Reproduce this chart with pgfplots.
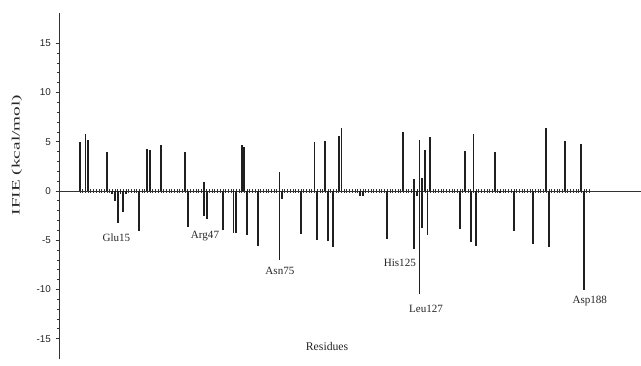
\documentclass[border=0pt]{standalone}
\usepackage{fontspec}
\setmainfont{Liberation Serif}
\setsansfont{Liberation Sans}
\usepackage{graphicx}
\usepackage{pgfplots}
\pgfplotsset{compat=1.18}
\begin{document}
\begin{tikzpicture}
\begin{axis}[
  scale only axis,
  width=436.5pt, height=260pt,
  xmin=-6.79, xmax=209.2,
  ymin=-17.1, ymax=18.1,
  clip=false,
  axis x line=middle,
  axis y line=left,
  axis line style={-, line width=0.6pt, black!80},
  xtick=\empty,
  extra x ticks={1,2,...,190},
  extra x tick labels={},
  extra x tick style={tick align=center, major tick length=3pt, tick style={line width=0.45pt, black!80}},
  ytick={-15,-10,-5,0,5,10,15},
  minor y tick num=4,
  ytick pos=left,
  tick align=outside,
  major tick length=2.6pt,
  minor tick length=1.6pt,
  tick style={line width=0.5pt, black!80},
  /pgf/number format/assume math mode=true,
  yticklabel style={font=\fontsize{7.4}{9}\selectfont\sffamily, text=black!85},
]
\coordinate (ll) at (rel axis cs:0,0);
\coordinate (ur) at (rel axis cs:1,1);
\addplot[ycomb, line width=1.3pt, black!88] coordinates {
(1,5.0) (3,5.8) (4,5.2) (11,4.0) (13,-0.3) (14,-1.0) (15,-3.3) (16,-0.3)
(17,-2.1) (18,-0.3) (23,-4.1) (26,4.25) (27,4.15) (31,4.7) (40,4.0) (41,-3.7)
(47,0.95) (47,-2.5) (48,-2.9) (54,-4.0) (58,-4.3) (59,-4.3) (61,4.7) (62,4.5)
(63,-4.5) (67,-5.6) (75,1.9) (75,-7.0) (76,-0.8) (83,-4.35) (88,5.0) (89,-5.0)
(92,5.1) (93,-5.1) (95,-5.7) (97,5.6) (98,6.35) (105,-0.5) (106,-0.5) (115,-4.9)
(121,6.0) (125,1.25) (125,-5.9) (126,-0.55) (127,5.2) (127,-10.45) (128,1.3) (128,-3.8)
(129,4.15) (130,-4.5) (131,5.45) (142,-3.9) (144,4.1) (146,-5.2) (147,5.8) (148,-5.6)
(155,4.0) (157,-0.2) (162,-4.1) (169,-5.4) (174,6.35) (175,-5.65) (181,5.05) (187,4.8)
(188,-10.05)
};
\begin{scope}[every node/.style={font=\fontsize{8.3}{10}\selectfont, text=black!85, inner sep=0pt}]
\node at (axis cs:14.5,-4.72) {Glu15};
\node at (axis cs:47.4,-4.57) {Arg47};
\node at (axis cs:75.2,-8.09) {Asn75};
\node at (axis cs:119.7,-7.28) {His125};
\node at (axis cs:129.4,-11.97) {Leu127};
\node at (axis cs:190.2,-11.15) {Asp188};
\node[font=\fontsize{8.8}{10}\selectfont] at (axis cs:92.7,-15.84) {Residues};
\node[rotate=90, font=\fontsize{8.5}{10}\selectfont] at (axis cs:-22.4,3.65) {\scalebox{1.7}[1]{IFIE (kcal/mol)}};
\end{scope}
\end{axis}
\pgfresetboundingbox
\useasboundingbox ([xshift=-44.25pt,yshift=-4.3pt]ll) rectangle ([yshift=9.5pt]ur);
\end{tikzpicture}
\end{document}
